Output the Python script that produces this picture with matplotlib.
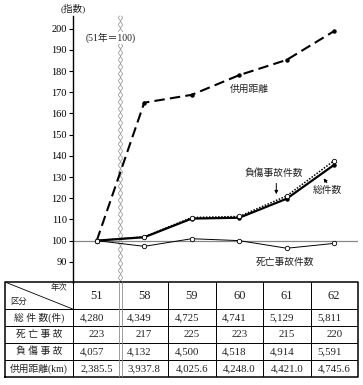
import numpy as np
import matplotlib
matplotlib.use("Agg")
import matplotlib.pyplot as plt
from matplotlib.transforms import blended_transform_factory

# 指数 (51年 = 100)
years = ["51", "58", "59", "60", "61", "62"]
total_idx = [100, 101.6, 110.4, 110.8, 119.8, 135.8]
injury_idx = [100, 101.8, 110.9, 111.4, 121.1, 137.8]
death_idx = [100, 97.3, 100.9, 100.0, 96.4, 98.7]
distance_idx = [100, 165.1, 168.8, 178.1, 185.3, 198.9]

# 表
row_labels = ["総 件 数(件)", "死 亡 事 故", "負 傷 事 故", "供用距離(km)"]
total_cnt = ["4,280", "4,349", "4,725", "4,741", "5,129", "5,811"]
death_cnt = ["223", "217", "225", "223", "215", "220"]
injury_cnt = ["4,057", "4,132", "4,500", "4,518", "4,914", "5,591"]
distance_km = ["2,385.5", "3,937.8", "4,025.6", "4,248.0", "4,421.0", "4,745.6"]
yticks = list(range(90, 201, 10))

JP = ["Liberation Serif", "Noto Sans CJK JP"]
INK = "#222222"

fig = plt.figure(figsize=(3.63, 3.85), dpi=100)
ax = fig.add_axes([73 / 363, 1 - 283 / 385, 285 / 363, 267 / 385])

x = np.arange(len(years))
ax.axhline(100, color="#888888", lw=0.9, zorder=1)
ax.plot(x, distance_idx, color="black", lw=1.5, dashes=(5, 2.5),
        marker="o", ms=2.2, zorder=3)
ax.plot(x, total_idx, color="black", lw=1.6, marker="o", ms=2.2, zorder=3)
ax.plot(x, injury_idx, color="black", lw=1.1, ls=(0, (1, 1)),
        marker="o", ms=3.2, mfc="white", mew=0.6, zorder=4)
ax.plot(x, death_idx, color="black", lw=0.7, marker="o", ms=3.2,
        mfc="white", mew=0.6, zorder=3)

ax.set_xlim(-0.5, 5.5)
ax.set_ylim(80, 206)
ax.set_xticks([])
ax.set_yticks(yticks)
ax.set_yticklabels([str(t) for t in yticks], family="Liberation Serif", fontsize=7.5)
ax.tick_params(axis="y", direction="out", length=3, width=0.8, pad=1.5)
for s in ["top", "right", "bottom"]:
    ax.spines[s].set_visible(False)
ax.spines["left"].set_linewidth(1.0)

# 波線 (軸の省略)
wave_tr = blended_transform_factory(ax.transData, ax.transAxes)
t = np.linspace(0, 1, 1500)
for off, ph in ((-0.022, 0.0), (0.022, np.pi)):
    wob = 0.02 * np.sin(t * 2 * np.pi * 38 + ph)
    ax.plot(0.5 + off + wob, t, color="#8c8c8c", lw=0.5,
            transform=wave_tr, clip_on=False, zorder=2)

ax.text(0.3, 195.5, "(51年＝100)", family=JP, fontsize=7, color=INK,
        ha="center", va="center", zorder=5,
        bbox=dict(facecolor="white", edgecolor="none", pad=0.5))
fig.text(73 / 363, 1 - 8 / 385, "(指数)", family=JP, fontsize=6.8,
         color=INK, ha="center", va="center")

ax.text(3.21, 171.5, "供用距離", family=JP, fontsize=7, color=INK,
        ha="center", va="center")
ax.text(3.72, 131.8, "負傷事故件数", family=JP, fontsize=7, color=INK,
        ha="center", va="center")
ax.annotate("", xy=(3.78, 120.6), xytext=(3.78, 128.3),
            arrowprops=dict(arrowstyle="-|>", color="black", lw=0.7,
                            mutation_scale=5))
ax.text(4.86, 123.6, "総件数", family=JP, fontsize=7, color=INK,
        ha="center", va="center")
ax.annotate("", xy=(4.74, 130.4), xytext=(4.88, 126.3),
            arrowprops=dict(arrowstyle="-|>", color="black", lw=0.7,
                            mutation_scale=5))
ax.text(3.97, 89.8, "死亡事故件数", family=JP, fontsize=7, color=INK,
        ha="center", va="center")

# 表
first_w = 68 / 47.5
tax = fig.add_axes([5 / 363, 1 - 377 / 385, 353 / 363, 95 / 385])
tax.set_xlim(-0.5 - first_w, 5.5)
row_h = [1.6, 1.0, 1.0, 1.0, 1.0]
edges = np.concatenate([[0], np.cumsum(row_h)])
top = edges[-1]
tax.set_ylim(0, top)
tax.axis("off")

left = -0.5 - first_w
for e in edges[1:-1]:
    tax.plot([left, 5.5], [top - e, top - e], color="black", lw=0.7)
tax.plot([left, 5.5, 5.5, left, left], [0, 0, top, top, 0],
         color="black", lw=1.1, clip_on=False)
for c in np.arange(-0.5, 5.0, 1.0):
    if c == 0.5:
        for off in (-0.025, 0.025):
            tax.plot([c + off, c + off], [0, top], color="#8c8c8c", lw=0.6)
    else:
        tax.plot([c, c], [0, top], color="black", lw=0.7)

# 見出し
tax.plot([left, -0.5], [top, top - row_h[0]], color="black", lw=0.6)
tax.text(-0.62, top - 0.35, "年次", family=JP, fontsize=6, color=INK,
         ha="right", va="center")
tax.text(left + 0.12, top - 1.2, "区分", family=JP, fontsize=6, color=INK,
         ha="left", va="center")
for i, yr in enumerate(years):
    tax.text(i, top - row_h[0] / 2, yr, family="Liberation Serif",
             fontsize=9, color=INK, ha="center", va="center")

rows = [total_cnt, death_cnt, injury_cnt, distance_km]
aligns = ["left", "center", "left", "center"]
for r, (lab, vals, al) in enumerate(zip(row_labels, rows, aligns)):
    yc = top - (edges[r + 1] + edges[r + 2]) / 2
    tax.text(left + first_w / 2, yc, lab, family=JP, fontsize=7,
             color=INK, ha="center", va="center")
    for i, v in enumerate(vals):
        xp = i - 0.5 + 0.14 if al == "left" else i
        tax.text(xp, yc, v, family="Liberation Serif", fontsize=7.8,
                 color=INK, ha=al, va="center")

fig.savefig("out.png", dpi=100)
